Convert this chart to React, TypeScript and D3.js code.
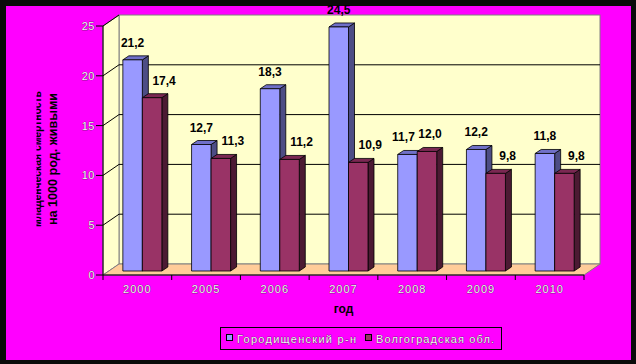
import React from 'react';
import * as d3 from 'd3';

const years = ['2000', '2005', '2006', '2007', '2008', '2009', '2010'];
const districtValues = [21.2, 12.7, 18.3, 24.5, 11.7, 12.2, 11.8];
const regionValues = [17.4, 11.3, 11.2, 10.9, 12.0, 9.8, 9.8];
const yTicks = [0, 5, 10, 15, 20, 25];
const seriesNames = ['Городищенский р-н', 'Волгоградская обл.'];

const W = 636, H = 364;
const BACK = { dx: 16, dy: -11 };  // depth of the back wall
const BAR_OFF = { dx: 5, dy: -4 }; // where bar front faces sit
const BAR_D = { dx: 6, dy: -4 };   // bar depth
const BAR_W = 19.5;

const colors = [
  { front: '#9999FF', top: '#7070C8', side: '#4D4D85' },
  { front: '#993366', top: '#7A2852', side: '#4C1A33' },
];

const fmt = (v: number) => v.toFixed(1).replace('.', ',');

export default function App() {
  const x = d3.scaleBand<string>().domain(years).range([103, 584]).paddingInner(0).paddingOuter(0);
  const y = d3.scaleLinear().domain([0, 25]).range([275, 26]);
  const x0 = 103, x1 = 584;

  const pts = (p: number[][]) => p.map(q => q.join(',')).join(' ');
  const outline = { fontFamily: 'Arial, "Liberation Sans", sans-serif', fill: '#f4f4f4', stroke: '#222', strokeWidth: 0.5, paintOrder: 'stroke' as const };

  const bars: JSX.Element[] = [];
  years.forEach((yr, i) => {
    const c = x(yr)! + x.bandwidth() / 2 + BAR_OFF.dx;
    const vals = [districtValues[i], regionValues[i]];
    vals.forEach((v, s) => {
      const l = c - BAR_W + s * BAR_W;
      const r = l + BAR_W;
      const t = y(v) + BAR_OFF.dy;
      const b = y(0) + BAR_OFF.dy;
      const col = colors[s];
      bars.push(
        <g key={yr + s} stroke="#000" strokeWidth={0.8} strokeLinejoin="round">
          <polygon points={pts([[r, t], [r + BAR_D.dx, t + BAR_D.dy], [r + BAR_D.dx, b + BAR_D.dy], [r, b]])} fill={col.side} />
          <polygon points={pts([[l, t], [l + BAR_D.dx, t + BAR_D.dy], [r + BAR_D.dx, t + BAR_D.dy], [r, t]])} fill={col.top} />
          <rect x={l} y={t} width={BAR_W} height={b - t} fill={col.front} />
        </g>
      );
    });
  });

  const labels: JSX.Element[] = [];
  years.forEach((yr, i) => {
    const c = x(yr)! + x.bandwidth() / 2 + BAR_OFF.dx;
    const vals = [districtValues[i], regionValues[i]];
    const regionHigher = regionValues[i] >= districtValues[i];
    vals.forEach((v, s) => {
      const bc = c - BAR_W / 2 + s * BAR_W;
      const shift = s === 0 ? (regionHigher ? -4 : 0) : (regionHigher ? 3 : 12);
      labels.push(
        <text key={'l' + yr + s} x={bc + shift} y={y(v) + BAR_OFF.dy - 13} textAnchor="middle"
          fontFamily="Arial, 'Liberation Sans', sans-serif" fontWeight="bold" fontSize={12} fill="#000">
          {fmt(v)}
        </text>
      );
    });
  });

  return (
    <svg width={W} height={H} style={{ position: 'absolute', left: 0, top: 0 }}>
      <defs>
        <clipPath id="titleClip">
          <rect x={36.5} y={0} width={30} height={H} />
        </clipPath>
      </defs>
      <rect x={0} y={0} width={W} height={H} fill="#0a0a0a" />
      <rect x={6} y={6} width={625} height={354} fill="#FF00FF" />

      {/* walls and floor */}
      <rect x={x0 + BACK.dx} y={y(25) + BACK.dy} width={x1 - x0} height={y(0) - y(25)} fill="#FFFFCC" stroke="#808080" strokeWidth={1} />
      <polygon points={pts([[x0, y(0)], [x0, y(25)], [x0 + BACK.dx, y(25) + BACK.dy], [x0 + BACK.dx, y(0) + BACK.dy]])} fill="#FFFFCC" stroke="#808080" strokeWidth={1} />
      <polygon points={pts([[x0, y(0)], [x1, y(0)], [x1 + BACK.dx, y(0) + BACK.dy], [x0 + BACK.dx, y(0) + BACK.dy]])} fill="#FFCC99" stroke="#808080" strokeWidth={1} />

      {yTicks.filter(t => t > 0 && t < 25).map(t => (
        <line key={'g' + t} x1={x0 + BACK.dx} x2={x1 + BACK.dx} y1={y(t) + BACK.dy} y2={y(t) + BACK.dy} stroke="#000" strokeWidth={1} />
      ))}
      {yTicks.filter(t => t > 0).map(t => (
        <line key={'d' + t} x1={x0} x2={x0 + BACK.dx} y1={y(t)} y2={y(t) + BACK.dy} stroke="#000" strokeWidth={1} />
      ))}

      {/* axes */}
      <line x1={x0} x2={x0} y1={y(25)} y2={y(0)} stroke="#000" />
      <line x1={x0} x2={x1} y1={y(0)} y2={y(0)} stroke="#000" />
      {yTicks.map(t => (
        <g key={'yt' + t}>
          <line x1={x0 - 7} x2={x0} y1={y(t)} y2={y(t)} stroke="#000" />
          <text x={x0 - 8} y={y(t) + 4} textAnchor="end" fontSize={11} letterSpacing={0.5} {...outline}>{t}</text>
        </g>
      ))}
      {[...years.map(yr => x(yr)!), x1].map((p, i) => (
        <line key={'xt' + i} x1={p} x2={p} y1={y(0)} y2={y(0) + 5} stroke="#000" />
      ))}
      {years.map(yr => (
        <text key={'xl' + yr} x={x(yr)! + x.bandwidth() / 2} y={293} textAnchor="middle" fontSize={11} letterSpacing={1} {...outline}>{yr}</text>
      ))}

      {bars}
      {labels}

      <text x={(x0 + x1) / 2} y={313} textAnchor="middle" fontFamily="Arial, 'Liberation Sans', sans-serif" fontWeight="bold" fontSize={12} fill="#000">год</text>

      {/* y axis title: first line is cut off in the original */}
      <g clipPath="url(#titleClip)">
        <text transform="translate(40.5,159) rotate(-90)" textAnchor="middle" fontFamily="Arial, 'Liberation Sans', sans-serif" fontWeight="bold" fontSize={12} fill="#000" textLength={136} lengthAdjust="spacingAndGlyphs">младенческая смертность</text>
      </g>
      <text transform="translate(57,159) rotate(-90)" textAnchor="middle" fontFamily="Arial, 'Liberation Sans', sans-serif" fontWeight="bold" fontSize={12} fill="#000" textLength={132} lengthAdjust="spacingAndGlyphs">на 1000 род. живыми</text>

      {/* legend */}
      <rect x={220.5} y={327.5} width={281} height={22} fill="none" stroke="#000" />
      <rect x={226.5} y={334.5} width={6} height={6} fill={colors[0].front} stroke="#000" />
      <text x={237} y={343} fontSize={11} textLength={119} lengthAdjust="spacing" {...outline}>{seriesNames[0]}</text>
      <rect x={365.5} y={334.5} width={6} height={6} fill={colors[1].front} stroke="#000" />
      <text x={376} y={343} fontSize={11} textLength={118} lengthAdjust="spacing" {...outline}>{seriesNames[1]}</text>
    </svg>
  );
}
